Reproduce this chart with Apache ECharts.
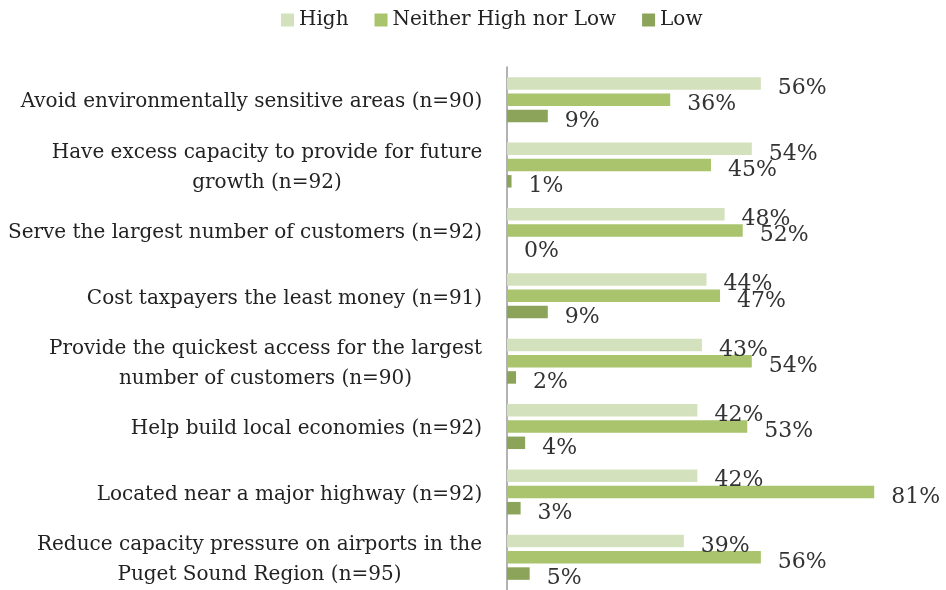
<!DOCTYPE html>
<html>
<head>
<meta charset="utf-8">
<script src="https://cdn.jsdelivr.net/npm/echarts@6/dist/echarts.min.js"></script>
<style>
  html, body { margin: 0; padding: 0; background: #fff; }
  #chart { width: 946px; height: 590px; }
</style>
</head>
<body>
<div id="chart"></div>
<script>
// Survey criteria, listed top to bottom
const categories = [
  'Avoid environmentally sensitive areas (n=90)',
  'Have excess capacity to provide for future\ngrowth (n=92)',
  'Serve the largest number of customers (n=92)',
  'Cost taxpayers the least money (n=91)',
  'Provide the quickest access for the largest\nnumber of customers (n=90)',
  'Help build local economies (n=92)',
  'Located near a major highway (n=92)',
  'Reduce capacity pressure on airports in the\nPuget Sound Region (n=95)'
];
const seriesNames = ['High', 'Neither High nor Low', 'Low'];
const highValues = [56, 54, 48, 44, 43, 42, 42, 39];
const neitherValues = [36, 45, 52, 47, 54, 53, 81, 56];
const lowValues = [9, 1, 0, 9, 2, 4, 3, 5];

const colors = ['#d4e1bd', '#a9c46d', '#8ca45a'];
const fontFamily = '"DejaVu Serif", "Liberation Serif", serif';
const labelFontSize = 20;

// Multi-line category labels: the block sits right against the axis,
// while its lines are centred on each other. Each label gets a rich style
// whose width is that of its longest line.
const measureCtx = document.createElement('canvas').getContext('2d');
measureCtx.font = labelFontSize + 'px ' + fontFamily;
const labelRich = {};
categories.forEach(function (c, i) {
  const w = Math.max.apply(null, c.split('\n').map(function (s) {
    return measureCtx.measureText(s).width;
  }));
  labelRich['c' + i] = {
    width: Math.ceil(w) + 1,
    align: 'center',
    fontSize: labelFontSize,
    lineHeight: 30,
    color: '#222',
    fontFamily: fontFamily
  };
});

const chart = echarts.init(document.getElementById('chart'), null, { renderer: 'canvas' });

function barSeries(name, data, color) {
  return {
    name: name,
    type: 'bar',
    data: data,
    barWidth: 12.5,
    barGap: '30%',
    itemStyle: { color: color },
    label: {
      show: true,
      position: 'right',
      distance: 0,
      offset: [17, 5],
      formatter: '{c}%',
      color: '#333',
      fontSize: 22,
      fontFamily: fontFamily
    }
  };
}

chart.setOption({
  animation: false,
  legend: {
    top: 5,
    left: 276,
    itemWidth: 13,
    itemHeight: 13,
    itemGap: 26,
    icon: 'rect',
    textStyle: { fontSize: 20, color: '#222', fontFamily: fontFamily },
    data: seriesNames
  },
  grid: { left: 507, top: 67, width: 408, height: 523 },
  xAxis: {
    type: 'value',
    min: 0,
    max: 90,
    show: false
  },
  yAxis: {
    type: 'category',
    inverse: true,
    data: categories,
    axisLine: { show: true, lineStyle: { color: '#999', width: 1.5 } },
    axisTick: { show: false },
    axisLabel: {
      margin: 24,
      fontSize: labelFontSize,
      lineHeight: 30,
      color: '#222',
      fontFamily: fontFamily,
      align: 'right',
      padding: [5, 0, 0, 0],
      rich: labelRich,
      formatter: function (value, index) {
        return value.split('\n').map(function (s) {
          return '{c' + index + '|' + s + '}';
        }).join('\n');
      }
    }
  },
  series: [
    barSeries(seriesNames[0], highValues, colors[0]),
    barSeries(seriesNames[1], neitherValues, colors[1]),
    barSeries(seriesNames[2], lowValues, colors[2])
  ]
});
</script>
</body>
</html>
